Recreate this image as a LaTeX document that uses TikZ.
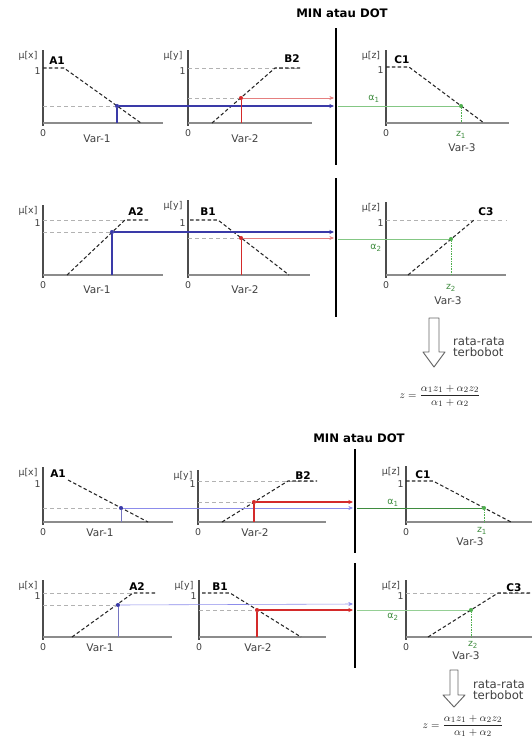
\documentclass[tikz,border=0pt]{standalone}
\usepackage{fontspec}
\setmainfont{DejaVu Sans}
\usetikzlibrary{arrows.meta}
\definecolor{fzblue}{HTML}{3A3AA8}
\definecolor{fzred}{HTML}{D42A2A}
\definecolor{fzgreen}{HTML}{4FAF4F}
\definecolor{fzlblue}{HTML}{8C8CEB}

\begin{document}
\begin{tikzpicture}[x=0.03cm, y=-0.03cm, font=\fontsize{8}{9}\selectfont,
  yax/.style={draw=black!70, line width=0.9pt},
  xax/.style={draw=black!45, line width=0.9pt},
  mf/.style={draw=black!85, line width=0.9pt, densely dashed},
  aux/.style={draw=black!30, line width=0.5pt, dashed},
  bar/.style={line width=2.4pt},
  setname/.style={font=\fontsize{9}{10}\selectfont\bfseries},
  varname/.style={font=\fontsize{9}{10}\selectfont, text=black!75},
  mu/.style={font=\fontsize{8}{9}\selectfont, text=black!75},
  glab/.style={font=\fontsize{8}{9}\selectfont, text=fzgreen!80!black},
  tip/.style={-{Stealth[length=4pt,width=3.5pt]}},
  dot/.style={circle, fill, inner sep=0pt, minimum size=3.5pt},
  hollow/.style={draw=black!60, line width=0.8pt, fill=white, line join=round},
  avg/.style={anchor=west, align=left, font=\fontsize{10}{10}\selectfont, text=black!75},
  wavg/.style={font=\fontsize{9.5}{11}\selectfont, text=black!85}]
  \useasboundingbox (0,0) rectangle (532,742);

  % axes of the twelve panels
  \foreach \ox/\oy/\ya/\xe/\one/\v in {43/123/50/163/68/x, 188/123/50/312/68/y,
      386/123/50/509/67/z, 43/275/205/163/220/x, 188/275/200/310/220/y,
      386/275/202/506/220/z, 43/522/467/173/481/x, 198/522/470/326/481/y,
      406/522/466/532/481/z, 43/637/580/172/593/x, 199/637/580/326/593/y,
      406/637/580/532/593/z}{
    \draw[yax] (\ox,\ya) -- (\ox,\oy+3);
    \draw[xax] (\ox,\oy) -- (\xe,\oy);
    \node[mu] (mu-\ox-\oy) at (\ox-15,\ya+6) {μ[\v]};
    \node[mu, anchor=east, inner sep=1pt] (one-\ox-\oy) at (\ox-1,\one+3) {1};
    \node[mu] (zero-\ox-\oy) at (\ox,\oy+10) {0};}

  % ---- first block ----
  \node[font=\fontsize{10}{11}\selectfont\bfseries] (min1) at (342,13) {MIN atau DOT};
  \draw[bar] (336,28) -- (336,165);
  \draw[bar] (336,178) -- (336,317);

  \draw[aux] (188,68) -- (300,68);
  \draw[aux] (43,220) -- (125,220);
  \draw[aux] (386,220) -- (506,220);
  \draw[mf] (43,68) -- (64,68) -- (141,123);
  \draw[mf] (212,123) -- (275,68) -- (300,68);
  \draw[mf] (386,67) -- (409,67) -- (484,123);
  \draw[mf] (67,275) -- (125,220) -- (150,220);
  \draw[mf] (190,220) -- (218,220) -- (289,275);
  \draw[mf] (408,275) -- (474,220);
  \node[setname] (sa1) at (57,61) {A1};
  \node[setname] (sb2) at (292,59) {B2};
  \node[setname] (sc1) at (402,60) {C1};
  \node[setname] (sa2) at (136,212) {A2};
  \node[setname] (sb1) at (208,212) {B1};
  \node[setname] (sc3) at (486,212) {C3};
  \node[varname] (v11) at (97,139) {Var-1};
  \node[varname] (v12) at (245,139) {Var-2};
  \node[varname] (v13) at (462,148) {Var-3};
  \node[varname] (v21) at (97,290) {Var-1};
  \node[varname] (v22) at (245,290) {Var-2};
  \node[varname] (v23) at (448,301) {Var-3};

  \node[dot, fzblue] (a1) at (117,106) {};
  \node[dot, fzred] (b2) at (241,98) {};
  \node[dot, fzgreen] (c1) at (461,106) {};
  \coordinate (a1f) at (117,123); \coordinate (b2f) at (241,123);
  \coordinate (c1f) at (461,123);
  \coordinate (a1e) at (334,106); \coordinate (b2e) at (334,98);
  \coordinate (c1s) at (338,106);
  \coordinate (a1y) at (43,106); \coordinate (b2y) at (188,98);
  \draw[aux] (a1y) -- (a1);
  \draw[aux] (b2y) -- (b2);
  \draw[fzblue, line width=1pt] (a1f) -- (a1);
  \draw[fzblue, line width=1pt, tip] (a1) -- (a1e);
  \draw[fzred, line width=0.8pt] (b2f) -- (b2);
  \draw[fzred!60, line width=0.6pt, tip] (b2) -- (b2e);
  \draw[fzgreen!70, line width=0.7pt] (c1s) -- (c1);
  \draw[fzgreen, densely dotted] (c1) -- (c1f);
  \node[glab] (al1) at (374,99) {α\textsubscript{1}};
  \node[glab] (z1) at (461,135) {z\textsubscript{1}};

  \node[dot, fzblue] (a2) at (112,232) {};
  \node[dot, fzred] (b1) at (241,238) {};
  \node[dot, fzgreen] (c3) at (451,239) {};
  \coordinate (a2f) at (112,275); \coordinate (b1f) at (241,275);
  \coordinate (c3f) at (451,275);
  \coordinate (a2e) at (334,232); \coordinate (b1e) at (334,238);
  \coordinate (c3s) at (338,239);
  \coordinate (a2y) at (43,232); \coordinate (b1y) at (188,238);
  \draw[aux] (a2y) -- (a2);
  \draw[aux] (b1y) -- (b1);
  \draw[fzblue, line width=1pt] (a2f) -- (a2);
  \draw[fzblue, line width=1pt, tip] (a2) -- (a2e);
  \draw[fzred, line width=0.8pt] (b1f) -- (b1);
  \draw[fzred!60, line width=0.6pt, tip] (b1) -- (b1e);
  \draw[fzgreen!70, line width=0.7pt] (c3s) -- (c3);
  \draw[fzgreen, densely dotted] (c3) -- (c3f);
  \node[glab] (al2) at (376,248) {α\textsubscript{2}};
  \node[glab] (z2) at (451,288) {z\textsubscript{2}};

  \draw[hollow] (429,318) -- (439,318) -- (439,352) -- (445,352) -- (434,367)
    -- (423,352) -- (429,352) -- cycle;
  \node[avg] (rr1) at (449,347) {rata-rata\\terbobot};
  \node[wavg] (w1) at (440,396)
    {$\displaystyle z=\frac{\alpha_1 z_1+\alpha_2 z_2}{\alpha_1+\alpha_2}$};

  % ---- second block ----
  \node[font=\fontsize{10}{11}\selectfont\bfseries] (min2) at (359,438) {MIN atau DOT};
  \draw[bar] (355,449) -- (355,553);
  \draw[bar] (355,563) -- (355,668);

  \draw[aux] (198,481) -- (317,481);
  \draw[aux] (43,593) -- (133,593);
  \draw[aux] (406,593) -- (532,593);
  \draw[mf] (68,480) -- (148,522);
  \draw[mf] (222,522) -- (288,481) -- (317,481);
  \draw[mf] (406,481) -- (433,481) -- (511,522);
  \draw[mf] (72,637) -- (133,593) -- (157,593);
  \draw[mf] (202,593) -- (230,593) -- (301,637);
  \draw[mf] (428,637) -- (498,593) -- (532,593);
  \node[setname] (sa1b) at (58,474) {A1};
  \node[setname] (sb2b) at (303,476) {B2};
  \node[setname] (sc1b) at (423,475) {C1};
  \node[setname] (sa2b) at (137,587) {A2};
  \node[setname] (sb1b) at (220,587) {B1};
  \node[setname] (sc3b) at (514,588) {C3};
  \node[varname] (v31) at (100,533) {Var-1};
  \node[varname] (v32) at (255,533) {Var-2};
  \node[varname] (v33) at (470,542) {Var-3};
  \node[varname] (v41) at (100,648) {Var-1};
  \node[varname] (v42) at (258,648) {Var-2};
  \node[varname] (v43) at (466,656) {Var-3};

  \node[dot, fzblue] (a1b) at (121,508) {};
  \node[dot, fzred] (b2b) at (254,502) {};
  \node[dot, fzgreen] (c1b) at (484,508) {};
  \coordinate (a1bf) at (121,522); \coordinate (b2bf) at (254,522);
  \coordinate (c1bf) at (484,522);
  \coordinate (a1be) at (353,508); \coordinate (b2be) at (353,502);
  \coordinate (c1bs) at (357,508);
  \coordinate (a1by) at (43,508); \coordinate (b2by) at (198,502);
  \draw[aux] (a1by) -- (a1b);
  \draw[aux] (b2by) -- (b2b);
  \draw[fzblue!70, line width=0.8pt] (a1bf) -- (a1b);
  \draw[fzlblue, line width=0.5pt, tip] (a1b) -- (a1be);
  \draw[fzred, line width=0.9pt] (b2bf) -- (b2b);
  \draw[fzred, line width=1pt, tip] (b2b) -- (b2be);
  \draw[fzgreen!80!black, line width=0.6pt] (c1bs) -- (c1b);
  \draw[fzgreen, densely dotted] (c1b) -- (c1bf);
  \node[glab] (al1b) at (393,503) {α\textsubscript{1}};
  \node[glab] (z1b) at (482,531) {z\textsubscript{1}};

  \node[dot, fzblue] (a2b) at (118,605) {};
  \node[dot, fzred] (b1b) at (257,610) {};
  \node[dot, fzgreen] (c3b) at (471,610) {};
  \coordinate (a2bf) at (118,637); \coordinate (b1bf) at (257,637);
  \coordinate (c3bf) at (471,637);
  \coordinate (a2be) at (353,604); \coordinate (b1be) at (353,610);
  \coordinate (c3bs) at (357,610);
  \coordinate (a2by) at (43,605); \coordinate (b1by) at (199,610);
  \draw[aux] (a2by) -- (a2b);
  \draw[aux] (b1by) -- (b1b);
  \draw[fzblue!70, line width=0.8pt] (a2bf) -- (a2b);
  \draw[fzlblue, line width=0.5pt, tip] (a2b) -- (a2be);
  \draw[fzred, line width=0.9pt] (b1bf) -- (b1b);
  \draw[fzred, line width=1pt, tip] (b1b) -- (b1be);
  \draw[fzgreen!60, line width=0.5pt] (c3bs) -- (c3b);
  \draw[fzgreen, densely dotted] (c3b) -- (c3bf);
  \node[glab] (al2b) at (393,617) {α\textsubscript{2}};
  \node[glab] (z2b) at (473,645) {z\textsubscript{2}};

  \draw[hollow] (450,670) -- (458,670) -- (458,695) -- (465,695) -- (454,707)
    -- (443,695) -- (450,695) -- cycle;
  \node[avg] (rr2) at (469,690) {rata-rata\\terbobot};
  \node[wavg] (w2) at (463,726)
    {$\displaystyle z=\frac{\alpha_1 z_1+\alpha_2 z_2}{\alpha_1+\alpha_2}$};
\end{tikzpicture}
\end{document}
